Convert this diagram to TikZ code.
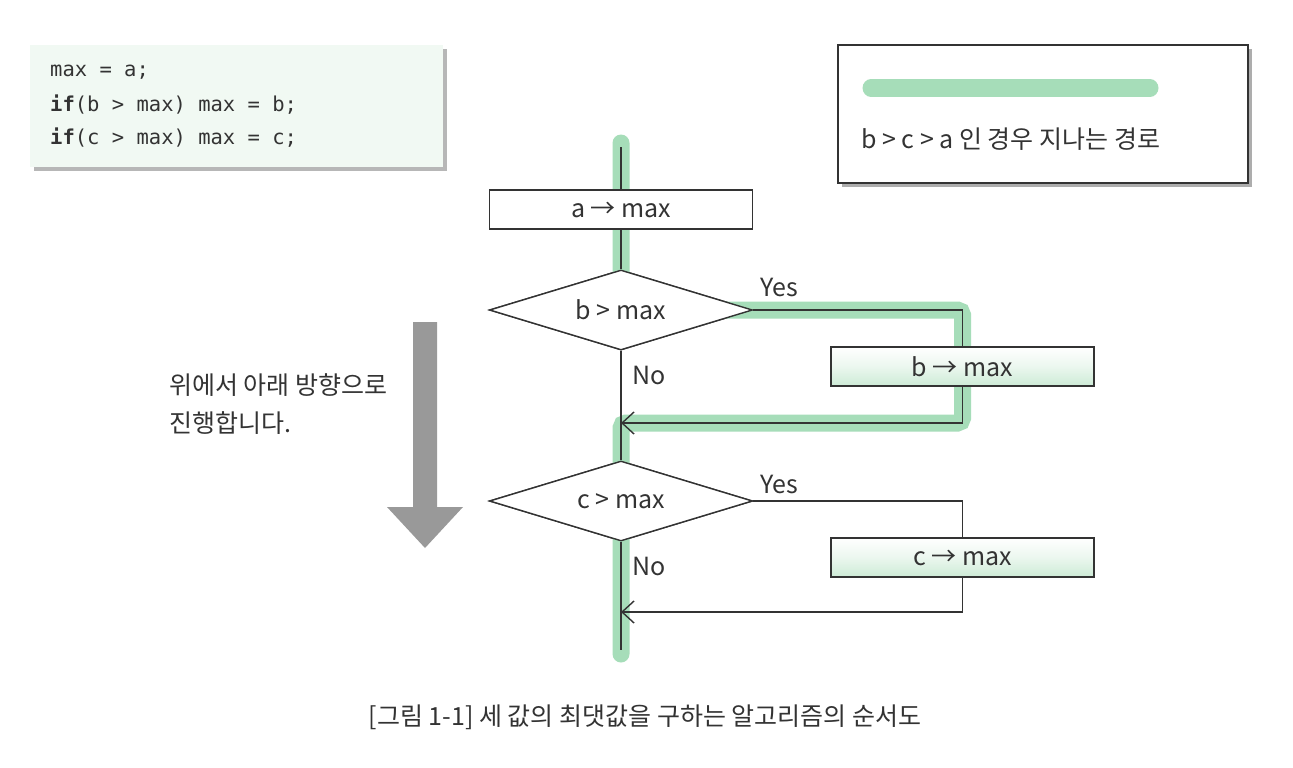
\documentclass[tikz,border=0pt]{standalone}
\usepackage{fontspec}
\setmainfont{Noto Sans CJK KR}
\newfontfamily\codefont{DejaVu Sans Mono}
\usetikzlibrary{arrows.meta,shapes.geometric,shadows,calc}
\definecolor{hlgreen}{HTML}{A6DDB9}
\definecolor{ink}{HTML}{333333}
\definecolor{codebg}{HTML}{F1F9F3}
\definecolor{boxgreen}{HTML}{CDEBD6}
\tikzset{
  ln/.style={draw=ink, line width=1.4pt},
  hl/.style={draw=hlgreen, line width=17pt, rounded corners=5pt, line cap=round},
  procbox/.style={draw=ink, line width=1.4pt, minimum width=263pt, minimum height=39pt, inner sep=0pt, text=ink, font=\fontsize{25}{30}\selectfont},
  greenbox/.style={procbox, top color=white, bottom color=boxgreen, middle color=white!60!boxgreen},
  decision/.style={diamond, draw=ink, line width=1.4pt, fill=white, minimum width=263pt, minimum height=80pt, aspect=3.3, inner sep=0pt, text=ink, font=\fontsize{25}{30}\selectfont},
  lbl/.style={text=ink, font=\fontsize{25}{30}\selectfont, inner sep=0pt},
  codeln/.style={anchor=west, inner sep=0pt, text=ink, font=\codefont\fontsize{20.5}{24}\selectfont},
  tip/.style={-{Straight Barb[length=12pt, width=22pt, line width=1.4pt]}}
}
\begin{document}
\begin{tikzpicture}[x=1pt, y=-1pt]
\useasboundingbox[fill=white] (0,0) rectangle (1293,768);

% code box
\node[fill=codebg, minimum width=413pt, minimum height=122pt, inner sep=0pt,
      drop shadow={shadow xshift=4pt, shadow yshift=-4pt, fill=black!35, opacity=0.8}] (code) at (236.5,106) {};
\node[codeln] (c1) at (50,72) {max = a;};
\node[codeln] (c2) at (50,105) {\textbf{if}(b > max) max = b;};
\node[codeln] (c3) at (50,138) {\textbf{if}(c > max) max = c;};

% legend
\node[draw=ink, line width=1.3pt, fill=white, minimum width=410pt, minimum height=138pt, inner sep=0pt,
      drop shadow={shadow xshift=4pt, shadow yshift=-4pt, fill=black!40, opacity=0.8}] (legend) at (1043,114) {};
\coordinate (lg1) at (871,88);
\coordinate (lg2) at (1150,88);
\draw[hl] (lg1) -- (lg2);
\node[lbl, anchor=west] (lgtext) at (861,139) {b > c > a 인 경우 지나는 경로};

% flowchart coordinates
\coordinate (start) at (621,147);
\coordinate (finish) at (621,650);
\coordinate (j1) at (621,423);
\coordinate (j2) at (621,612);

\node[procbox, fill=white] (a) at (621,209.5) {a → max};
\node[decision] (d1) at (621,310) {b > max};
\node[greenbox] (b) at (962.5,366.5) {b → max};
\node[decision] (d2) at (621,501) {c > max};
\node[greenbox] (c) at (962.5,557.5) {c → max};

% highlighted path
\draw[hl] ($(start)+(0,-4)$) -- (d1.center) -- (d1.center -| b.center) -- (j1 -| b.center) -- (j1) -- ($(finish)+(0,4)$);

% redraw nodes on top of highlight
\node[procbox, fill=white] at (a) {a → max};
\node[decision] at (d1) {b > max};
\node[greenbox] at (b) {b → max};
\node[decision] at (d2) {c > max};
\node[greenbox] at (c) {c → max};

% connectors
\draw[ln] (start) -- (a.north);
\draw[ln] (a.south) -- (d1.north);
\draw[ln] (d1.south) -- (d2.north);
\draw[ln] (d2.south) -- (finish);
\draw[ln] (d1.east) -| (b.north);
\draw[ln, tip] (b.south) |- (j1);
\draw[ln] (d2.east) -| (c.north);
\draw[ln, tip] (c.south) |- (j2);

% labels
\node[lbl] (y1) at (779,287) {Yes};
\node[lbl] (n1) at (649,375) {No};
\node[lbl] (y2) at (779,484) {Yes};
\node[lbl] (n2) at (649,566) {No};

% direction arrow
\fill[black!40] (413,322) -- (437,322) -- (437,507) -- (463,507) -- (425,548) -- (387,507) -- (413,507) -- cycle;
\node[lbl, anchor=west] (dir1) at (169,385) {위에서 아래 방향으로};
\node[lbl, anchor=west] (dir2) at (169,423) {진행합니다.};

% caption
\node[lbl] (cap) at (645,717) {[그림 1-1] 세 값의 최댓값을 구하는 알고리즘의 순서도};
\end{tikzpicture}
\end{document}
